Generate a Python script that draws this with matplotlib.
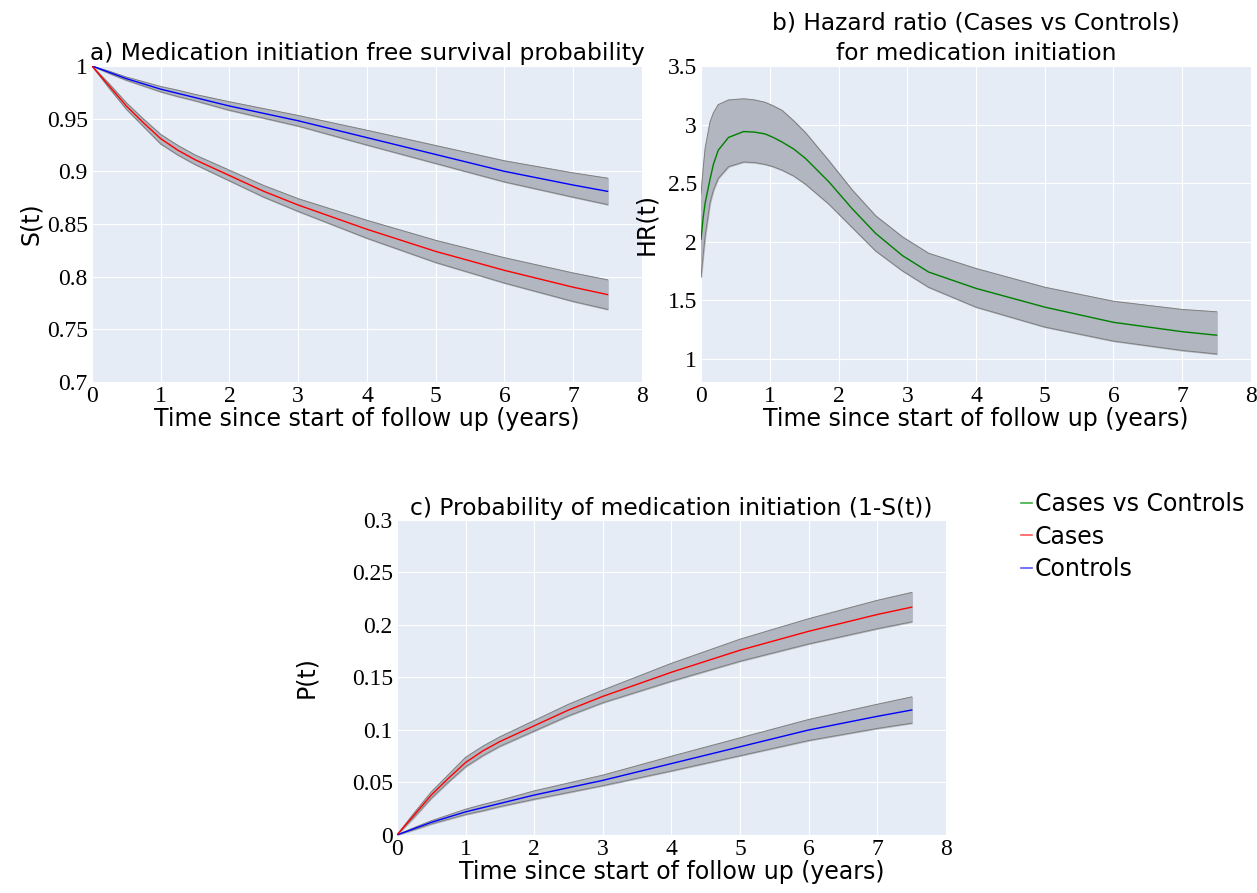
import numpy as np
import matplotlib
matplotlib.use("Agg")
import matplotlib.pyplot as plt
from matplotlib.lines import Line2D

# survival curves
t_surv = [0, 0.25, 0.5, 0.75, 1, 1.25, 1.5, 2, 2.5, 3, 4, 5, 6, 7, 7.5]
cases_s = [1, 0.981, 0.962, 0.946, 0.931, 0.920, 0.911, 0.896, 0.881, 0.868, 0.845, 0.824, 0.806, 0.790, 0.783]
cases_lo = [1, 0.979, 0.959, 0.9425, 0.926, 0.9155, 0.9065, 0.891, 0.8755, 0.862, 0.8365, 0.8135, 0.794, 0.7765, 0.769]
cases_hi = [1, 0.983, 0.965, 0.9495, 0.935, 0.9245, 0.9155, 0.901, 0.8865, 0.874, 0.8535, 0.8345, 0.818, 0.8035, 0.797]
ctrl_s = [1, 0.994, 0.988, 0.983, 0.978, 0.974, 0.970, 0.962, 0.955, 0.948, 0.932, 0.916, 0.900, 0.887, 0.881]
ctrl_lo = [1, 0.993, 0.9865, 0.981, 0.9755, 0.971, 0.967, 0.958, 0.9505, 0.943, 0.925, 0.9075, 0.890, 0.8755, 0.8685]
ctrl_hi = [1, 0.995, 0.9895, 0.985, 0.9805, 0.977, 0.973, 0.966, 0.9595, 0.953, 0.939, 0.9245, 0.910, 0.8985, 0.8935]

# hazard ratio (panel b)
t_hr = [0, 0.03, 0.06, 0.13, 0.18, 0.25, 0.4, 0.62, 0.78, 0.93, 1.05, 1.18, 1.35, 1.52, 1.86,
        2.2, 2.54, 2.93, 3.31, 4, 5, 6, 7, 7.5]
hr = [2.02, 2.20, 2.33, 2.53, 2.66, 2.78, 2.89, 2.94, 2.935, 2.92, 2.89, 2.85, 2.79, 2.71, 2.51,
      2.28, 2.07, 1.88, 1.74, 1.60, 1.44, 1.31, 1.23, 1.20]
hr_hi = [2.41, 2.62, 2.80, 3.02, 3.10, 3.17, 3.21, 3.22, 3.21, 3.19, 3.16, 3.12, 3.03, 2.93, 2.69,
         2.44, 2.22, 2.04, 1.90, 1.77, 1.61, 1.49, 1.42, 1.40]
hr_lo = [1.70, 1.88, 2.05, 2.33, 2.44, 2.54, 2.64, 2.68, 2.675, 2.66, 2.64, 2.61, 2.56, 2.49, 2.32,
         2.12, 1.92, 1.75, 1.61, 1.44, 1.27, 1.15, 1.07, 1.04]

x_labels = ["0", "1", "2", "3", "4", "5", "6", "7", "8"]

BG = "#E5ECF6"
BAND = "#B1B6C0"
EDGE = "#7F7F7F"
SERIF = ["Liberation Serif", "DejaVu Serif"]
TICK_FS = 17
LABEL_FS = 17
TITLE_FS = 16.8


def style(ax, ylim, yticks, ylabels):
    ax.set_facecolor(BG)
    for s in ax.spines.values():
        s.set_visible(False)
    ax.set_xlim(0, 8)
    ax.set_ylim(*ylim)
    ax.set_xticks(range(9))
    ax.set_xticklabels(x_labels, fontfamily=SERIF, fontsize=TICK_FS)
    ax.set_yticks(yticks)
    ax.set_yticklabels(ylabels, fontfamily=SERIF, fontsize=TICK_FS)
    ax.tick_params(length=0, pad=3)
    ax.grid(True, color="white", linewidth=0.8)
    ax.set_axisbelow(True)
    ax.set_xlabel("Time since start of follow up (years)", fontsize=LABEL_FS, labelpad=0)


def band(ax, t, lo, hi):
    ax.fill_between(t, lo, hi, color=BAND, zorder=2)
    ax.plot(t, lo, color=EDGE, lw=0.7, zorder=2)
    ax.plot(t, hi, color=EDGE, lw=0.7, zorder=2)


fig = plt.figure(figsize=(12.57, 8.93), dpi=100)
ax_a = fig.add_axes([0.0732, 0.5722, 0.4375, 0.3539])
ax_b = fig.add_axes([0.5577, 0.5722, 0.4375, 0.3539])
ax_c = fig.add_axes([0.3158, 0.0650, 0.4368, 0.3527])

# a) survival
band(ax_a, t_surv, ctrl_lo, ctrl_hi)
band(ax_a, t_surv, cases_lo, cases_hi)
ax_a.plot(t_surv, ctrl_s, color="blue", lw=1, zorder=3)
ax_a.plot(t_surv, cases_s, color="red", lw=1, zorder=3)
style(ax_a, (0.7, 1.0), [0.7, 0.75, 0.8, 0.85, 0.9, 0.95, 1.0],
      ["0.7", "0.75", "0.8", "0.85", "0.9", "0.95", "1"])
ax_a.set_ylabel("S(t)", fontsize=LABEL_FS)
ax_a.yaxis.set_label_coords(-0.09, 0.5)
ax_a.set_title("a) Medication initiation free survival probability", fontsize=TITLE_FS, pad=4)

# b) hazard ratio
band(ax_b, t_hr, hr_lo, hr_hi)
ax_b.plot(t_hr, hr, color="green", lw=1, zorder=3)
style(ax_b, (0.8, 3.5), [1, 1.5, 2, 2.5, 3, 3.5], ["1", "1.5", "2", "2.5", "3", "3.5"])
ax_b.set_ylabel("HR(t)", fontsize=LABEL_FS)
ax_b.yaxis.set_label_coords(-0.078, 0.5)
ax_b.set_title("b) Hazard ratio (Cases vs Controls)\nfor medication initiation",
               fontsize=TITLE_FS, pad=4, linespacing=1.45)

# c) 1 - S(t)
t = np.array(t_surv)
band(ax_c, t, 1 - np.array(ctrl_hi), 1 - np.array(ctrl_lo))
band(ax_c, t, 1 - np.array(cases_hi), 1 - np.array(cases_lo))
ax_c.plot(t, 1 - np.array(ctrl_s), color="blue", lw=1, zorder=3)
ax_c.plot(t, 1 - np.array(cases_s), color="red", lw=1, zorder=3)
style(ax_c, (0, 0.3), [0, 0.05, 0.1, 0.15, 0.2, 0.25, 0.3],
      ["0", "0.05", "0.1", "0.15", "0.2", "0.25", "0.3"])
ax_c.set_ylabel("P(t)", fontsize=LABEL_FS)
ax_c.yaxis.set_label_coords(-0.144, 0.5)
ax_c.set_title("c) Probability of medication initiation (1-S(t))", fontsize=TITLE_FS, pad=3)

handles = [Line2D([], [], color="#3CB043", lw=1.2),
           Line2D([], [], color="#FF5A5A", lw=1.2),
           Line2D([], [], color="#5A5AFF", lw=1.2)]
fig.legend(handles, ["Cases vs Controls", "Cases", "Controls"],
           loc="upper left", bbox_to_anchor=(0.812, 0.449), frameon=False,
           fontsize=17, handlelength=0.5, handletextpad=0.1,
           labelspacing=0.36, borderaxespad=0, borderpad=0)

fig.savefig("out.png", dpi=100)
